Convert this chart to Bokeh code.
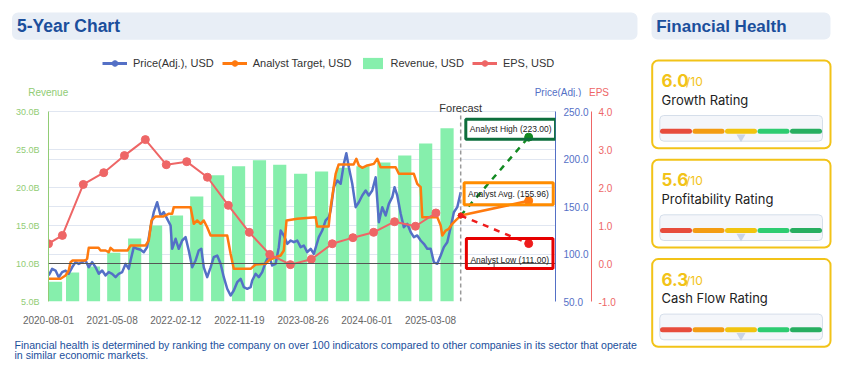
import pandas as pd
from bokeh.plotting import figure
from bokeh.models import (Range1d, LinearAxis, FixedTicker, PrintfTickFormatter,
                          DatetimeTickFormatter, Grid, Span, Label, Legend, LegendItem,
                          BoxAnnotation)
from bokeh.layouts import row, column
from bokeh.core.properties import value
from bokeh.embed import file_html
from bokeh.resources import INLINE

# ---------------- data ----------------
START_DATE = "2020-08-01"
X_END_DATE = "2026-09-09"
X_TICK_DATES = ["2020-08-01", "2021-05-08", "2022-02-12", "2022-11-19",
                "2023-08-26", "2024-06-01", "2025-03-08"]
EXTRA_TICK_DATE = "2025-12-13"

REVENUE_DATES = ["2020-09-01", "2020-11-15", "2021-02-15", "2021-05-15", "2021-08-15",
                 "2021-11-15", "2022-02-15", "2022-05-15", "2022-08-15", "2022-11-15",
                 "2023-02-15", "2023-05-15", "2023-08-15", "2023-11-15", "2024-02-15",
                 "2024-05-15", "2024-08-15", "2024-11-15", "2025-02-15", "2025-05-20"]
REVENUE_B = [7.6, 8.8, 9.6, 11.4, 13.3, 15.0, 16.3, 18.8, 21.6, 22.8,
             23.6, 23.0, 21.8, 22.1, 22.6, 22.8, 23.3, 24.2, 25.8, 27.8]

EPS_DATES = ["2020-08-01", "2020-10-01", "2021-01-01", "2021-04-01", "2021-07-01",
             "2021-10-01", "2022-01-01", "2022-04-01", "2022-07-01", "2022-10-01",
             "2023-01-01", "2023-04-01", "2023-07-01", "2023-10-01", "2024-01-01",
             "2024-04-01", "2024-07-01", "2024-10-01", "2025-01-01", "2025-04-01"]
EPS_USD = [0.52, 0.74, 2.08, 2.39, 2.84, 3.26, 2.60, 2.68, 2.27, 1.53,
           0.82, 0.24, -0.03, 0.11, 0.52, 0.68, 0.82, 1.10, 0.98, 1.33]

# days after START_DATE
PRICE_DAYS = [1, 16, 31, 45, 60, 75, 89, 104, 119, 133, 148, 163, 177, 192, 207, 221,
              236, 251, 265, 280, 295, 309, 324, 339, 353, 361, 375, 390, 405, 419, 434,
              449, 463, 478, 493, 507, 522, 537, 544, 559, 573, 588, 603, 617, 632, 647,
              661, 672, 683, 698, 713, 727, 742, 757, 771, 786, 801, 815, 830, 845, 859,
              874, 889, 896, 911, 925, 940, 955, 969, 984, 999, 1013, 1021, 1035, 1050,
              1065, 1079, 1094, 1109, 1123, 1138, 1153, 1167, 1189, 1204, 1219, 1233,
              1241, 1255, 1270, 1285, 1299, 1310, 1321, 1336, 1351, 1365, 1380, 1395,
              1409, 1424, 1439, 1453, 1468, 1483, 1497, 1512, 1522, 1534, 1549, 1563,
              1578, 1593, 1607, 1622, 1637, 1651, 1666, 1681, 1695, 1710, 1725, 1739,
              1754, 1769, 1783, 1798, 1813]
PRICE_USD = [77.4, 84.4, 82.6, 75.6, 80.9, 82.6, 79.2, 86.0, 91.4, 89.6, 91.4, 93.2,
             86.0, 91.4, 86.0, 79.2, 82.6, 77.4, 80.9, 79.2, 75.6, 79.2, 80.9, 89.6,
             84.4, 93.2, 107.2, 105.5, 104.4, 101.9, 107.2, 128.2, 144.0, 154.5, 140.5,
             144.0, 137.0, 130.0, 105.5, 116.0, 105.5, 114.2, 117.7, 103.7, 86.0, 93.2,
             103.7, 105.5, 86.0, 75.6, 86.0, 96.6, 98.4, 89.7, 75.6, 63.4, 56.3, 61.6,
             70.3, 73.9, 65.1, 63.4, 65.1, 72.1, 79.2, 75.6, 80.9, 91.4, 98.4, 87.9,
             89.7, 107.2, 124.7, 119.5, 110.7, 114.2, 112.4, 114.2, 107.2, 108.9, 101.9,
             105.5, 100.2, 117.7, 124.7, 135.3, 138.8, 145.8, 170.3, 177.4, 173.9, 194.9,
             206.1, 191.4, 173.9, 149.3, 154.5, 161.6, 166.8, 161.6, 166.8, 180.8, 133.5,
             149.3, 140.5, 152.8, 159.8, 170.3, 161.6, 142.3, 128.2, 131.8, 123.0, 117.7,
             119.5, 114.2, 110.7, 105.5, 105.5, 91.4, 89.7, 98.4, 107.2, 112.4, 128.2,
             144.0, 149.3, 165.1]

TARGET_DAYS = [0, 53, 75, 89, 97, 106, 163, 170, 177, 220, 229, 251, 265, 273, 286, 348,
               361, 427, 441, 453, 471, 506, 528, 544, 551, 625, 639, 654, 669, 683, 698,
               713, 786, 801, 815, 889, 911, 955, 969, 999, 1021, 1035, 1047, 1094, 1175,
               1182, 1232, 1241, 1263, 1276, 1342, 1354, 1365, 1380, 1402, 1431, 1446,
               1461, 1527, 1541, 1607, 1622, 1637, 1644, 1710, 1725, 1732, 1747, 1761,
               1776, 1791, 1813]
TARGET_USD = [73.9, 73.9, 77.4, 82.6, 91.4, 93.2, 93.2, 95.0, 106.5, 106.5, 103.7, 103.7,
              101.9, 106.5, 103.7, 103.7, 109.0, 109.0, 114.2, 135.3, 139.5, 139.5, 142.3,
              142.3, 149.3, 149.3, 131.8, 135.3, 131.8, 135.3, 128.2, 119.5, 119.5, 100.2,
              84.4, 84.4, 89.0, 89.7, 93.2, 96.6, 98.4, 103.7, 135.3, 137.0, 138.8, 128.9,
              128.9, 149.3, 184.4, 194.2, 194.2, 200.2, 193.2, 190.7, 193.2, 194.9, 200.2,
              191.4, 191.4, 184.4, 184.4, 173.9, 170.3, 138.8, 138.8, 130.0, 119.5, 124.7,
              126.5, 131.8, 135.3, 140.5]

FORECAST_DATE = "2025-07-19"
PROJECTION_DATE = "2026-05-14"
ANALYST_HIGH = 223.00
ANALYST_AVG = 155.96
ANALYST_LOW = 111.00

REVENUE_TICKS = [5, 10, 15, 20, 25, 30]
PRICE_TICKS = [50, 100, 150, 200, 250]
EPS_TICKS = [-1, 0, 1, 2, 3, 4]

LEGEND_LABELS = ["Price(Adj.), USD", "Analyst Target, USD", "Revenue, USD", "EPS, USD"]

RATING_SCORES = [6.0, 5.6, 6.3]
RATING_NAMES = ["Growth Rating", "Profitability Rating", "Cash Flow Rating"]
GAUGE_COLORS = ["#e74c3c", "#f39c12", "#f1c40f", "#2ecc71", "#27ae60"]

FOOTNOTE = ["Financial health is determined by ranking the company on over 100 indicators "
            "compared to other companies in its sector that operate",
            "in similar economic markets."]

# ---------------- styling / helpers ----------------
FONT = "Liberation Sans"
BLUE = "#5470c6"
ORANGE = "#ff7a0f"
GREEN_BAR = "#86efac"
GREEN_AXIS = "#91cc75"
RED = "#ee6666"
TITLE_BLUE = "#1b4f9c"
YELLOW = "#f2c318"
GRID = "#e0e6f1"
DAY_MS = 86400000.0
FRAME_H = 204          # chart frame height (px)
DATA_H = 190           # height of the value area inside the frame (px)
STRETCH = FRAME_H / DATA_H


def ms(d):
    return pd.Timestamp(d).value / 1e6


def no_align(f):
    if "frame_align" in f.properties():
        f.frame_align = False
    return f


start = pd.Timestamp(START_DATE)
price_dates = [start + pd.Timedelta(days=d) for d in PRICE_DAYS]
target_dates = [start + pd.Timedelta(days=d) for d in TARGET_DAYS]
rev_dates = pd.to_datetime(REVENUE_DATES)
eps_dates = pd.to_datetime(EPS_DATES)


def stretched(ticks):
    lo, hi = ticks[0], ticks[-1]
    return Range1d(lo, lo + (hi - lo) * STRETCH)


# ---------------- main chart ----------------
chart = figure(width=640, height=233, x_axis_type="datetime",
               x_range=Range1d(ms(START_DATE), ms(X_END_DATE)),
               y_range=stretched(REVENUE_TICKS),
               toolbar_location=None, output_backend="svg",
               min_border_left=40, min_border_right=93, min_border_top=0,
               min_border_bottom=233 - FRAME_H)
no_align(chart)
chart.outline_line_color = None
chart.xgrid.visible = False
chart.extra_y_ranges = {"price": stretched(PRICE_TICKS), "eps": stretched(EPS_TICKS)}

xa = chart.xaxis[0]
xa.ticker = FixedTicker(ticks=[ms(d) for d in X_TICK_DATES])
fmt = "%Y-%m-%d"
xa.formatter = DatetimeTickFormatter(milliseconds=fmt, seconds=fmt, minsec=fmt, minutes=fmt,
                                     hourmin=fmt, hours=fmt, days=fmt, months=fmt, years=fmt)
xa.axis_line_color = None
xa.major_tick_line_color = None
xa.minor_tick_line_color = None
xa.major_label_standoff = 8
xa.major_label_text_font = FONT
xa.major_label_text_font_size = "10px"
xa.major_label_text_color = "#666666"

ya = chart.yaxis[0]
ya.ticker = FixedTicker(ticks=REVENUE_TICKS)
ya.formatter = PrintfTickFormatter(format="%.1fB")
ya.bounds = (REVENUE_TICKS[0], REVENUE_TICKS[-1])
ya.axis_line_color = GREEN_AXIS
ya.major_tick_line_color = None
ya.minor_tick_line_color = None
ya.major_tick_out = 0
ya.major_tick_in = 0
ya.major_label_standoff = 9
ya.major_label_text_font = FONT
ya.major_label_text_font_size = "9px"
ya.major_label_text_color = GREEN_AXIS

chart.ygrid.ticker = FixedTicker(ticks=REVENUE_TICKS)
chart.ygrid.grid_line_color = GRID
chart.add_layout(Grid(dimension=1, ticker=FixedTicker(ticks=PRICE_TICKS), y_range_name="price",
                      grid_line_color=GRID))


def side_axis(range_name, ticks, color, standoff):
    ax = LinearAxis(y_range_name=range_name, ticker=FixedTicker(ticks=ticks),
                    formatter=PrintfTickFormatter(format="%.1f"), bounds=(ticks[0], ticks[-1]))
    ax.axis_line_color = color
    ax.major_tick_line_color = None
    ax.minor_tick_line_color = None
    ax.major_tick_out = 0
    ax.major_tick_in = 0
    ax.major_label_standoff = standoff
    ax.major_label_text_font = FONT
    ax.major_label_text_font_size = "10px"
    ax.major_label_text_color = color
    return ax


chart.add_layout(side_axis("price", PRICE_TICKS, BLUE, 8), "right")
spacer = LinearAxis(y_range_name="price", ticker=FixedTicker(ticks=[]))
spacer.axis_line_color = None
spacer.major_tick_line_color = None
spacer.minor_tick_line_color = None
spacer.major_tick_out = 9
spacer.major_tick_in = 0
spacer.minor_tick_out = 0
spacer.major_label_standoff = 0
chart.add_layout(spacer, "right")
chart.add_layout(side_axis("eps", EPS_TICKS, RED, 7), "right")

# series
chart.vbar(x=rev_dates, top=REVENUE_B, bottom=REVENUE_TICKS[0], width=58 * DAY_MS,
           fill_color=GREEN_BAR, line_color=None)
chart.add_layout(Span(location=0, dimension="width", y_range_name="eps",
                      line_color="#555555", line_width=1.2))
chart.segment(x0=[ms(EXTRA_TICK_DATE)], y0=[0], x1=[ms(EXTRA_TICK_DATE)], y1=[-0.13],
              y_range_name="eps", line_color="#555555", line_width=1)

chart.line(x=price_dates, y=PRICE_USD, y_range_name="price",
           line_color=BLUE, line_width=2.5, line_join="round")
chart.line(x=target_dates, y=TARGET_USD, y_range_name="price",
           line_color=ORANGE, line_width=2.5, line_join="round")
chart.line(x=eps_dates, y=EPS_USD, y_range_name="eps", line_color=RED, line_width=2)
chart.scatter(x=eps_dates, y=EPS_USD, y_range_name="eps", size=8,
              fill_color=RED, line_color=RED)

# forecast divider
chart.segment(x0=[ms(FORECAST_DATE)], y0=[REVENUE_TICKS[0]], x1=[ms(FORECAST_DATE)],
              y1=[REVENUE_TICKS[-1]], line_color="#999999", line_dash="4 3", line_width=1.5)
chart.add_layout(Label(x=ms(FORECAST_DATE), y=194, y_units="screen", text="Forecast",
                       text_align="center", text_baseline="middle", text_font=FONT,
                       text_font_size="11px", text_color="#333333"))

proj_start = TARGET_USD[-1]
projections = [(ANALYST_HIGH, "#138a22", "dashed", "#0d6e3c", "Analyst High (%.2f)" % ANALYST_HIGH,
                -18, 8, dict(top=5, bottom=5, left=4, right=4)),
               (ANALYST_AVG, ORANGE, "solid", "#ff8c00", "Analyst Avg. (%.2f)" % ANALYST_AVG,
                -20, 7, dict(top=6, bottom=6, left=4, right=4)),
               (ANALYST_LOW, "#ee1c1c", "dashed", "#e60000", "Analyst Low (%.2f)" % ANALYST_LOW,
                -19, -10, dict(top=16, bottom=4, left=4, right=4))]
for val, col, dash, bcol, txt, xo, yo, pad in projections:
    chart.line(x=[ms(FORECAST_DATE), ms(PROJECTION_DATE)], y=[proj_start, val],
               y_range_name="price", line_color=col, line_width=2.5, line_dash=dash)
    chart.scatter(x=[ms(PROJECTION_DATE)], y=[val], y_range_name="price", size=8,
                  fill_color=col, line_color=col)
    chart.scatter(x=[ms(FORECAST_DATE)], y=[proj_start], y_range_name="price", size=5,
                  fill_color=col, line_color=col)
    chart.add_layout(Label(x=ms(PROJECTION_DATE), y=val, y_range_name="price", text=txt,
                           x_offset=xo, y_offset=yo, text_align="center",
                           text_baseline="middle", text_font=FONT, text_font_size="8.5px",
                           text_color="#222222", background_fill_color=None,
                           border_line_color=bcol, border_line_width=3, padding=pad))


# ---------------- decorative panels ----------------
def blank(w, h):
    f = figure(width=w, height=h, x_range=Range1d(0, w), y_range=Range1d(0, h),
               x_axis_location=None, y_axis_location=None, toolbar_location=None,
               output_backend="svg", min_border=0)
    no_align(f)
    f.grid.visible = False
    f.outline_line_color = None
    return f


def rounded_box(f, left, right, top, bottom, fill, line=None, lw=1, radius=6):
    f.add_layout(BoxAnnotation(left=left, right=right, top=top, bottom=bottom,
                               fill_color=fill, fill_alpha=1, line_color=line, line_alpha=1,
                               line_width=lw, border_radius=radius, level="underlay"))


# title
title_fig = blank(640, 37)
rounded_box(title_fig, 3.5, 629, 37 - 4, 37 - 31.3, "#e8eef6")
title_fig.text(x=[8.4], y=[37 - 17.5], text=["5-Year Chart"], text_font=value(FONT),
               text_font_style="bold", text_font_size="17.5px", text_color=TITLE_BLUE,
               text_baseline="middle")

# header: legend + axis titles
HH = 52
header = blank(640, HH)
far = [-100]
r_price_l = header.line(x=far, y=[0], line_color=BLUE, line_width=3)
r_price_m = header.scatter(x=far, y=[0], size=10, fill_color=BLUE, line_color=BLUE)
r_tgt_l = header.line(x=far, y=[0], line_color=ORANGE, line_width=3)
r_tgt_m = header.scatter(x=far, y=[0], size=10, fill_color=ORANGE, line_color=ORANGE)
r_rev = header.vbar(x=far, top=[0], width=1, fill_color=GREEN_BAR, line_color=None)
r_eps_l = header.line(x=far, y=[0], line_color=RED, line_width=3)
r_eps_m = header.scatter(x=far, y=[0], size=10, fill_color=RED, line_color=RED)
legend = Legend(items=[LegendItem(label=LEGEND_LABELS[0], renderers=[r_price_l, r_price_m]),
                       LegendItem(label=LEGEND_LABELS[1], renderers=[r_tgt_l, r_tgt_m]),
                       LegendItem(label=LEGEND_LABELS[2], renderers=[r_rev]),
                       LegendItem(label=LEGEND_LABELS[3], renderers=[r_eps_l, r_eps_m])],
                location=(94, 27), orientation="horizontal",
                glyph_width=25, glyph_height=14, label_height=14, label_standoff=6,
                spacing=8, padding=0, margin=0, border_line_color=None,
                background_fill_alpha=0, label_text_font=FONT,
                label_text_font_size="11px", label_text_color="#333333")
header.add_layout(legend)
header.text(x=[39.7, 549.5, 590.5], y=[HH - 46.7] * 3, text=["Revenue", "Price(Adj.)", "EPS"],
            text_color=[GREEN_AXIS, BLUE, RED], text_font=value(FONT), text_font_size="10px",
            text_align="center", text_baseline="middle")

# footnote
foot_fig = blank(640, 35)
foot_fig.text(x=[6, 6], y=[35 - 14, 35 - 24.7], text=FOOTNOTE, text_font=value(FONT),
              text_font_size="10.6px", text_color=TITLE_BLUE, text_baseline="middle")

# financial health panel
H = 357
side = blank(189, H)
rounded_box(side, 3, 182, H - 4, H - 31, "#e8eef6")
side.text(x=[7.7], y=[H - 17.5], text=["Financial Health"], text_font=value(FONT),
          text_font_style="bold", text_font_size="17px", text_color=TITLE_BLUE,
          text_baseline="middle")
for i, (score, name) in enumerate(zip(RATING_SCORES, RATING_NAMES)):
    t = 52 + i * 99.3
    rounded_box(side, 3.7, 182, H - t, H - t - 87.7, "white", YELLOW, 2, 6)
    rounded_box(side, 11.3, 174, H - t - 55, H - t - 80.7, "#f4f6fa", "#d5deea", 1, 4)
    side.text(x=[13], y=[H - t - 20], text=["%.1f" % score], text_font=value("Inter"),
              text_font_style="bold", text_font_size="17px", text_color=YELLOW,
              text_baseline="middle")
    side.text(x=[37.5], y=[H - t - 21], text=["/10"], text_font=value("Inter"),
              text_font_size="12px", text_color=YELLOW, text_baseline="middle")
    side.text(x=[13], y=[H - t - 39], text=[name], text_font=value("Inter"),
              text_font_size="13px", text_color="#222222", text_baseline="middle")
    x0 = [14 + k * 32.5 for k in range(5)]
    side.segment(x0=x0, y0=[H - t - 70.7] * 5, x1=[x + 27 for x in x0], y1=[H - t - 70.7] * 5,
                 line_color=GAUGE_COLORS, line_width=5, line_cap="round")
    side.scatter(x=[x0[2] + 13.5], y=[H - t - 76.5], marker="inverted_triangle", size=9,
                 fill_color="#c9d4e6", line_color=None)

layout = row(column(title_fig, header, chart, foot_fig, spacing=0), side, spacing=0)
layout.margin = (8, 8, 8, 8)

open("out.html", "w").write(file_html(layout, INLINE))
